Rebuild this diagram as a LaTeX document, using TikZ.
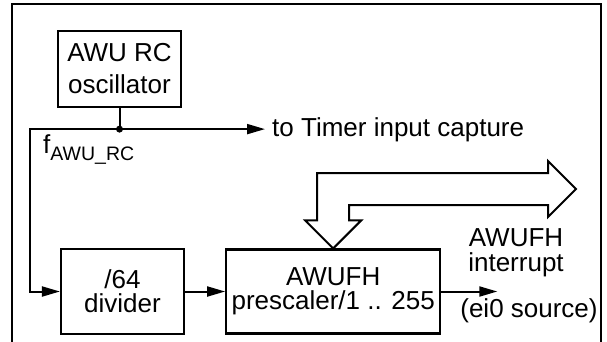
\documentclass[tikz,border=0pt]{standalone}
\usepackage{fontspec}
\setmainfont{Liberation Sans}
\usetikzlibrary{arrows.meta,positioning,calc}
\tikzstyle{Block} = [draw, rectangle, line width=2.2pt, align=center, inner sep=0pt, font=\fontsize{26}{24}\selectfont]
\tikzstyle{Text} = [align=center, inner sep=0pt, font=\fontsize{26}{25}\selectfont]
\tikzstyle{Wire} = [line width=2pt, -{Triangle[length=18pt,width=10pt]}]
\tikzstyle{Bus} = [draw, line width=2pt, line join=miter]

\begin{document}
\begin{tikzpicture}[x=1pt,y=-1pt]
    \clip (0,0) rectangle (607,341);
    \draw[line width=2.5pt] (12,4) rectangle (601,360);
    \node[Block, minimum width=123pt, minimum height=76pt, font=\fontsize{26}{32}\selectfont] (osc) at (119.5,69) {AWU RC\\oscillator};
    \node[Block, minimum width=123pt, minimum height=85pt] (divider) at (122.5,291.5) {/64\\divider};
    \node[Block, minimum width=214pt, minimum height=84pt] (prescaler) [right=40pt of divider] {AWUFH\\prescaler/1 .. 255};
    \node[Text, anchor=base west] (timer) at (272,136) {to Timer input capture};
    \node[Text, anchor=base west] (freq) at (43,153) {f\raisebox{-7pt}{\fontsize{19.5}{19.5}\selectfont AWU\_RC}};
    \node[Text] (irq) at (516,253) {AWUFH\\interrupt};
    \node[Text, anchor=base] (source) at (529,317) {(ei0 source)};
    \coordinate (fork)   at ([yshift=-21pt]osc.south);
    \coordinate (corner) at ([xshift=-90pt]fork);
    \coordinate (irqout) at ([xshift=56pt]prescaler.east);
    \coordinate (busend) at (576,189);
    % clock distribution
    \draw[line width=2pt] (osc) -- (fork);
    \draw[Wire] (fork) -- ([xshift=-7pt]fork -| timer.west);
    \draw[Wire] (fork) -- (corner) |- (divider);
    \fill (fork) circle (3.5pt);
    \draw[Wire] (divider) -- (prescaler);
    \draw[Wire] (prescaler) -- (irqout);
    % register bus
    \draw[Bus] (prescaler.north) -- ++(-28,-28) -- ++(12,0) |- ($(busend)+(-28,-16)$) -- ++(0,-12) -- (busend)
        -- ++(-28,28) -- ++(0,-12) -| ($(prescaler.north)+(16,-28)$) -- ++(12,0) -- cycle;
\end{tikzpicture}
\end{document}
